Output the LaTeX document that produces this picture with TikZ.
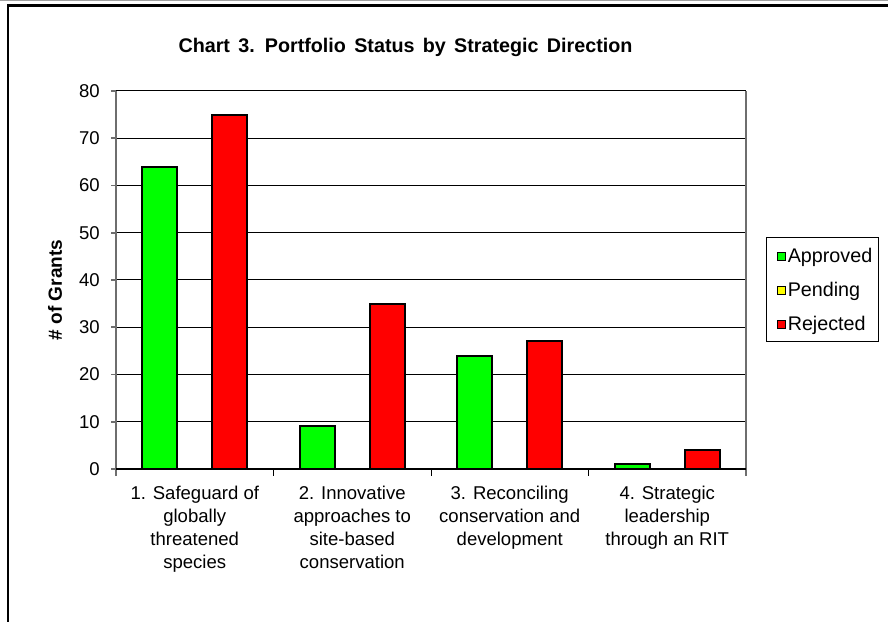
\documentclass[tikz,border=0pt]{standalone}
\usepackage{fontspec}
\setmainfont{Liberation Sans}
\usetikzlibrary{positioning}
\definecolor{grant-green}{RGB}{0, 255, 0}
\definecolor{grant-yellow}{RGB}{255, 255, 0}
\definecolor{grant-red}{RGB}{255, 0, 0}
\definecolor{axis-gray}{RGB}{110, 110, 110}
\definecolor{edge-gray}{RGB}{160, 160, 160}

\begin{document}
\begin{tikzpicture}[x=0.75pt, y=0.75pt,
    every node/.style={font=\fontsize{13.9}{17.25}\selectfont, inner sep=0pt},
    bar/.style={draw=black, line width=1.5pt},
    gridline/.style={draw=black, line width=0.75pt},
    axisline/.style={draw=axis-gray, line width=1.4pt},
    catlabel/.style={anchor=north, align=center},
    legendtext/.style={font=\fontsize{14.8}{17.25}\selectfont},
    legendkey/.style={draw=black, line width=0.75pt, minimum size=6pt}]
\useasboundingbox (0,0) rectangle (888,621);
\clip (0,0) rectangle (888,621);
% frame round the chart
\draw[edge-gray, line width=0.9pt] (0,620.5) -- (888,620.5);
\draw[black, line width=2pt] (8,-10) -- (8,615.5) -- (900,615.5);
\node[anchor=base, font=\bfseries\fontsize{14.8}{17}\selectfont] (title) at (405.5,568)
    {\spaceskip=0.42em Chart 3. Portfolio Status by Strategic Direction};
\node[rotate=90, font=\bfseries\fontsize{14.3}{17}\selectfont] (ylabel) at (55,331) {\# of Grants};
% plot area, y in grants
\begin{scope}[shift={(116,152)}, y=3.544pt]
\draw[gridline] (0,10) -- (630,10);
\draw[gridline] (0,20) -- (630,20);
\draw[gridline] (0,30) -- (630,30);
\draw[gridline] (0,40) -- (630,40);
\draw[gridline] (0,50) -- (630,50);
\draw[gridline] (0,60) -- (630,60);
\draw[gridline] (0,70) -- (630,70);
\draw[gridline] (0,80) -- (630,80);
\filldraw[bar, fill=grant-green] (26.25,0) rectangle (61.25,64);
\filldraw[bar, fill=grant-red] (96.25,0) rectangle (131.25,75);
\filldraw[bar, fill=grant-green] (183.75,0) rectangle (218.75,9);
\filldraw[bar, fill=grant-red] (253.75,0) rectangle (288.75,35);
\filldraw[bar, fill=grant-green] (341.25,0) rectangle (376.25,24);
\filldraw[bar, fill=grant-red] (411.25,0) rectangle (446.25,27);
\filldraw[bar, fill=grant-green] (498.75,0) rectangle (533.75,1);
\filldraw[bar, fill=grant-red] (568.75,0) rectangle (603.75,4);
\draw[axisline] (0,-1.5) -- (0,80);
\draw[axisline] (630,-1.5) -- (630,80);
\draw[axisline] (-5,10) -- (0,10) (-5,20) -- (0,20) (-5,30) -- (0,30) (-5,40) -- (0,40)
    (-5,50) -- (0,50) (-5,60) -- (0,60) (-5,70) -- (0,70) (-5,80) -- (0,80) (-5,0) -- (0,0);
\draw[black, line width=1.1pt] (0,0) -- (630,0);
\draw[black, line width=0.75pt] (157.5,0) -- (157.5,-1.5) (315,0) -- (315,-1.5) (472.5,0) -- (472.5,-1.5);
\node[anchor=east] (tick0) at (-16,0) {0};
\node[anchor=east] (tick10) at (-16,10) {10};
\node[anchor=east] (tick20) at (-16,20) {20};
\node[anchor=east] (tick30) at (-16,30) {30};
\node[anchor=east] (tick40) at (-16,40) {40};
\node[anchor=east] (tick50) at (-16,50) {50};
\node[anchor=east] (tick60) at (-16,60) {60};
\node[anchor=east] (tick70) at (-16,70) {70};
\node[anchor=east] (tick80) at (-16,80) {80};
\end{scope}
% category names
\node[catlabel] (species) at (194.75,135) {1. Safeguard of\\globally\\threatened\\species};
\node[catlabel] (sites) at (352.25,135) {2. Innovative\\approaches to\\site-based\\conservation};
\node[catlabel] (development) at (509.75,135) {3. Reconciling\\conservation and\\development};
\node[catlabel] (leadership) at (667.25,135) {4. Strategic\\leadership\\through an RIT};
% legend
\draw[black, line width=0.75pt] (766.7,383) rectangle (878,279);
\node[legendtext, anchor=west] (approved) at (787.5,364) {Approved};
\node[legendtext, below=25.5pt of approved.west, anchor=west] (pending) {Pending};
\node[legendtext, below=25.5pt of pending.west, anchor=west] (rejected) {Rejected};
\node[legendkey, fill=grant-green, left=1.5pt of approved] (key-approved) {};
\node[legendkey, fill=grant-yellow, left=1.5pt of pending] (key-pending) {};
\node[legendkey, fill=grant-red, left=1.5pt of rejected] (key-rejected) {};
\end{tikzpicture}
\end{document}
